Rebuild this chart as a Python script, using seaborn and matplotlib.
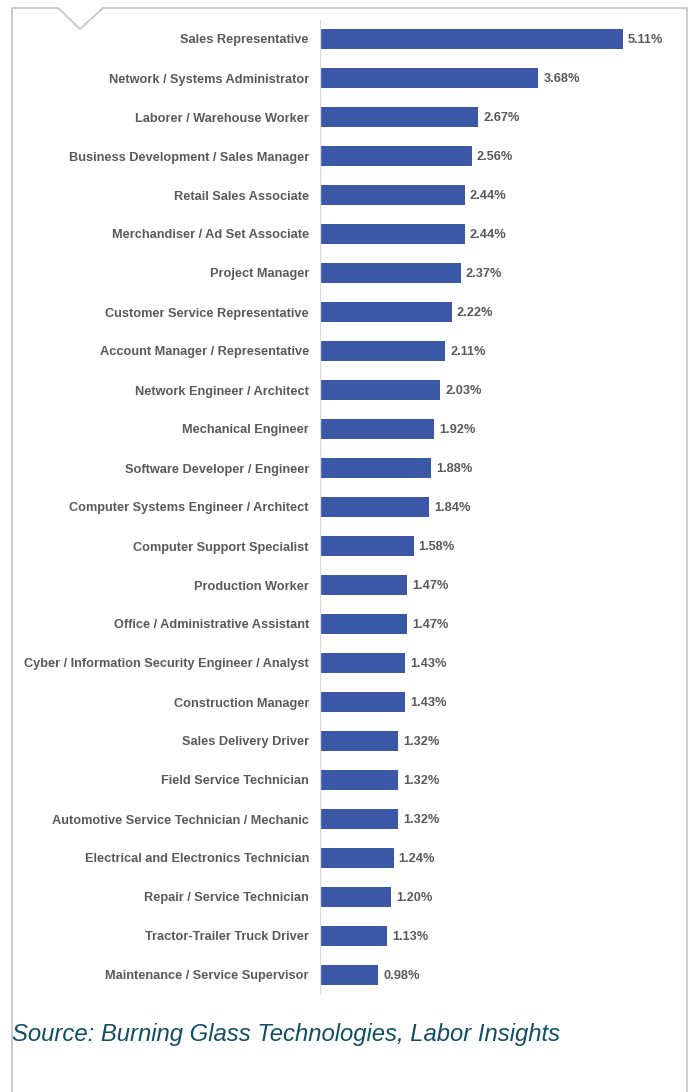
import matplotlib
matplotlib.use('Agg')
import matplotlib.pyplot as plt
import seaborn as sns
import pandas as pd
from matplotlib.lines import Line2D

# Data
OCCUPATIONS = [
    'Sales Representative',
    'Network / Systems Administrator',
    'Laborer / Warehouse Worker',
    'Business Development / Sales Manager',
    'Retail Sales Associate',
    'Merchandiser / Ad Set Associate',
    'Project Manager',
    'Customer Service Representative',
    'Account Manager / Representative',
    'Network Engineer / Architect',
    'Mechanical Engineer',
    'Software Developer / Engineer',
    'Computer Systems Engineer / Architect',
    'Computer Support Specialist',
    'Production Worker',
    'Office / Administrative Assistant',
    'Cyber / Information Security Engineer / Analyst',
    'Construction Manager',
    'Sales Delivery Driver',
    'Field Service Technician',
    'Automotive Service Technician / Mechanic',
    'Electrical and Electronics Technician',
    'Repair / Service Technician',
    'Tractor-Trailer Truck Driver',
    'Maintenance / Service Supervisor',
]
SHARES = [5.11, 3.68, 2.67, 2.56, 2.44, 2.44, 2.37, 2.22, 2.11, 2.03, 1.92, 1.88,
          1.84, 1.58, 1.47, 1.47, 1.43, 1.43, 1.32, 1.32, 1.32, 1.24, 1.20, 1.13, 0.98]
SOURCE = 'Source: Burning Glass Technologies, Labor Insights'

BAR_COLOR = '#3B58A8'
TEXT_GRAY = '#595959'
FRAME_GRAY = '#C4C4C4'

sns.set_theme(style='white')
plt.rcParams['font.family'] = ['Liberation Sans', 'DejaVu Sans']

df = pd.DataFrame({'occupation': OCCUPATIONS, 'share': SHARES})

W, H = 691, 1092
fig = plt.figure(figsize=(W / 100, H / 100), dpi=100)

# axes placed in pixel terms
left_px, right_px = 320, 687
top_px, bottom_px = 19.5, 994.5
ax = fig.add_axes([left_px / W, 1 - bottom_px / H,
                   (right_px - left_px) / W, (bottom_px - top_px) / H])

sns.barplot(data=df, x='share', y='occupation', color=BAR_COLOR,
            saturation=1, width=0.49, ax=ax, edgecolor='none')

px_per_unit = (623 - 320) / 5.11
ax.set_xlim(0, (right_px - left_px) / px_per_unit)
ax.set_ylim(len(df) - 0.5, -0.5)

for spine in ax.spines.values():
    spine.set_visible(False)
ax.axvline(0, color='#D9D9D9', lw=1)
ax.set_xticks([])
ax.set_xlabel('')
ax.set_ylabel('')
ax.tick_params(axis='y', length=0, pad=8)
for lbl in ax.get_yticklabels():
    lbl.set_fontsize(9.2)
    lbl.set_fontweight('bold')
    lbl.set_color(TEXT_GRAY)

for i, v in enumerate(df['share']):
    ax.annotate(f'{v:.2f}%', xy=(v, i), xytext=(3.6, -0.6), textcoords='offset points',
                ha='left', va='center', fontsize=9.2, fontweight='bold',
                color=TEXT_GRAY)

# frame with notch
def px(x, y):
    return (x / W, 1 - y / H)

frame_x = [12, 12, 58, 80, 103, 687, 687]
frame_y = [1092, 8, 8, 29, 8, 8, 1092]
pts = [px(x, y) for x, y in zip(frame_x, frame_y)]
fig.add_artist(Line2D([p[0] for p in pts], [p[1] for p in pts],
                      transform=fig.transFigure, color=FRAME_GRAY, lw=1.2))

fig.text(12 / W, 1 - 1034 / H, SOURCE, ha='left', va='center',
         fontsize=17.2, style='italic', color='#0F4E63')

fig.savefig('out.png', dpi=100)
